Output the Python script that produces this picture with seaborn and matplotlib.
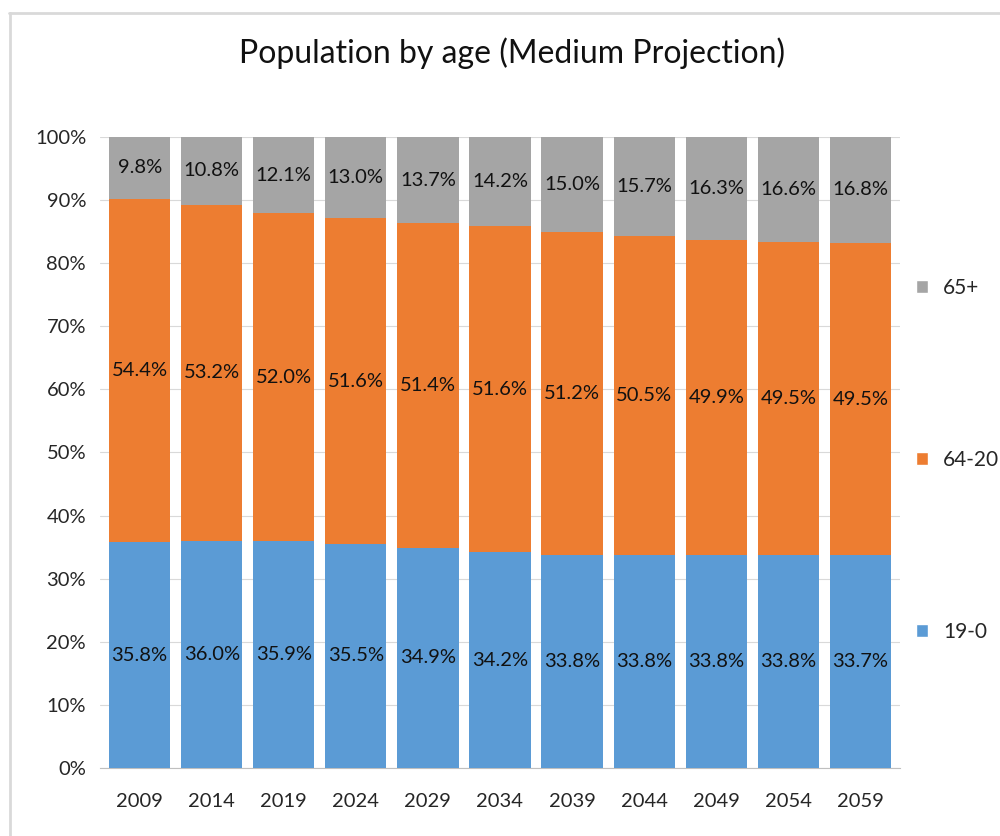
import numpy as np
import pandas as pd
import matplotlib
matplotlib.use('Agg')
import matplotlib.pyplot as plt
from matplotlib.patches import Patch
from matplotlib.lines import Line2D
import seaborn as sns

years = ['2009', '2014', '2019', '2024', '2029', '2034', '2039', '2044', '2049', '2054', '2059']
young = [35.8, 36.0, 35.9, 35.5, 34.9, 34.2, 33.8, 33.8, 33.8, 33.8, 33.7]
adult = [54.4, 53.2, 52.0, 51.6, 51.4, 51.6, 51.2, 50.5, 49.9, 49.5, 49.5]
old = [9.8, 10.8, 12.1, 13.0, 13.7, 14.2, 15.0, 15.7, 16.3, 16.6, 16.8]
groups = ['19-0', '64-20', '65+']
colors = ['#5B9BD5', '#ED7D31', '#A5A5A5']

sns.set_style('white')
plt.rcParams['font.family'] = ['Lato', 'DejaVu Sans']

df = pd.DataFrame({'year': years, '19-0': young, '64-20': adult, '65+': old})
df['c1'] = df['19-0']
df['c2'] = df['c1'] + df['64-20']
df['c3'] = df['c2'] + df['65+']

fig = plt.figure(figsize=(10, 8.36), dpi=100)
ax = fig.add_axes([0.10, 0.0813, 0.80, 0.755])

# stacked bars: draw cumulative totals from top segment down
for col, c in [('c3', colors[2]), ('c2', colors[1]), ('c1', colors[0])]:
    sns.barplot(data=df, x='year', y=col, color=c, width=0.85, ax=ax,
                saturation=1, edgecolor='none', zorder=3)

for i, row in df.iterrows():
    lows = [0, row['c1'], row['c2']]
    vals = [row['19-0'], row['64-20'], row['65+']]
    for lo, v in zip(lows, vals):
        ax.text(i, lo + v / 2, f'{v:.1f}%', ha='center', va='center',
                fontsize=14.5, color='#111111', zorder=5)

ax.set_ylim(0, 100)
ax.set_xlim(-0.55, len(years) - 0.45)
ax.set_yticks(np.arange(0, 101, 10))
ax.set_yticklabels([f'{t}%' for t in range(0, 101, 10)])
ax.grid(axis='y', color='#D9D9D9', linewidth=0.8, zorder=0)
ax.set_xlabel('')
ax.set_ylabel('')
ax.tick_params(axis='both', length=0, labelsize=14.5, colors='#262626')
ax.tick_params(axis='x', pad=18)
ax.tick_params(axis='y', pad=10)
for s in ['top', 'right', 'left']:
    ax.spines[s].set_visible(False)
ax.spines['bottom'].set_color('#BFBFBF')

fig.text(0.512, 0.936, 'Population by age (Medium Projection)', ha='center',
         va='center', fontsize=23, color='#111111')

handles = [Patch(facecolor=colors[k], label=groups[k]) for k in [2, 1, 0]]
leg = fig.legend(handles=handles, loc='upper left', bbox_to_anchor=(0.897, 0.690),
                 frameon=False, fontsize=15, handlelength=0.6, handleheight=0.6,
                 handletextpad=0.7, labelspacing=7.3)
for t in leg.get_texts():
    t.set_color('#262626')

# chart frame (only top and left edges are visible in the crop)
fig.add_artist(Line2D([0.009, 1.0], [0.984, 0.984], transform=fig.transFigure,
                      color='#D9D9D9', linewidth=2))
fig.add_artist(Line2D([0.010, 0.010], [0.0, 0.985], transform=fig.transFigure,
                      color='#D9D9D9', linewidth=2))

plt.savefig('out.png', dpi=100)
